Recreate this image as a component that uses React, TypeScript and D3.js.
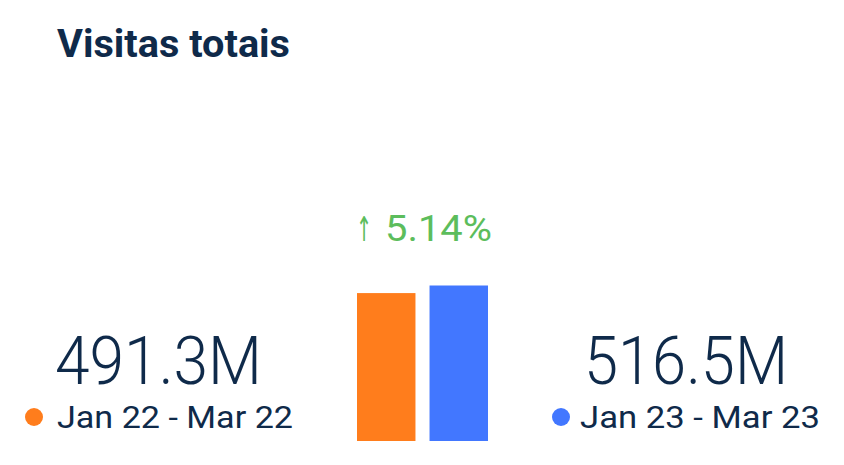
import React from "react";
import * as d3 from "d3";

const periods = ["Jan 22 - Mar 22", "Jan 23 - Mar 23"];
const values = [491.3, 516.5];
const valueLabels = ["491.3M", "516.5M"];
const colors = ["#ff7d1c", "#4277ff"];
const changeLabel = "5.14%";
const title = "Visitas totais";

export default function App() {
  const W = 844, H = 465;
  const navy = "#0f2a4a";
  const font = "Roboto, 'Noto Sans', sans-serif";
  const baseY = 441;
  const y = d3.scaleLinear().domain([0, d3.max(values)!]).range([baseY, 285.5]);
  const x = d3.scaleBand().domain(periods).range([357, 488]).paddingInner(0.194).paddingOuter(0);

  const blocks = [
    { vx: 55, vw: 207, lx: 34, tx: 57, tw: 236 },
    { vx: 584, vw: 204, lx: 561, tx: 580, tw: 240 },
  ];

  return (
    <svg width={W} height={H} style={{ position: "absolute", left: 0, top: 0, background: "#fff" }}>
      <text x={57} y={57} fontFamily={font} fontWeight={700} fontSize={39} fill={navy} textLength={233} lengthAdjust="spacingAndGlyphs">{title}</text>
      {periods.map((p, i) => (
        <rect key={p} x={x(p)} y={y(values[i])} width={x.bandwidth()} height={baseY - y(values[i])} fill={colors[i]} />
      ))}
      <text x={356} y={241} fontFamily="'DejaVu Sans', sans-serif" fontSize={34} fill="#5cbd5c" textLength={16} lengthAdjust="spacingAndGlyphs">↑</text>
      <text x={385} y={241} fontFamily={font} fontSize={36} fill="#5cbd5c" textLength={107} lengthAdjust="spacingAndGlyphs">{changeLabel}</text>
      {periods.map((p, i) => (
        <g key={p}>
          <text x={blocks[i].vx} y={384} fontFamily={font} fontWeight={300} fontSize={67} fill={navy} textLength={blocks[i].vw} lengthAdjust="spacingAndGlyphs">{valueLabels[i]}</text>
          <circle cx={blocks[i].lx} cy={417} r={9} fill={colors[i]} />
          <text x={blocks[i].tx} y={428} fontFamily={font} fontSize={31} fill={navy} textLength={blocks[i].tw} lengthAdjust="spacingAndGlyphs">{p}</text>
        </g>
      ))}
    </svg>
  );
}
